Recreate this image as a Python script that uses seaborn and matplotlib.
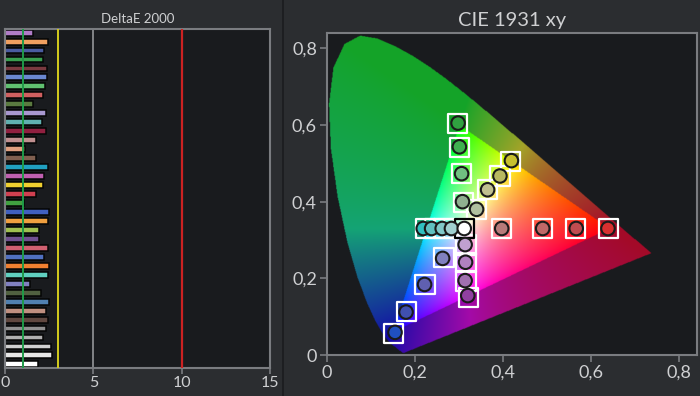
import numpy as np
import pandas as pd
import matplotlib
matplotlib.use("Agg")
import matplotlib.pyplot as plt
import seaborn as sns
from matplotlib.path import Path
from matplotlib.lines import Line2D

# ---------------- data ----------------
de_values = [1.57, 2.43, 2.22, 2.14, 2.35, 2.35, 2.24, 2.14, 1.57, 2.30,
             2.09, 2.30, 1.78, 1.16, 1.73, 2.45, 2.22, 2.14, 1.78, 1.10,
             2.50, 2.43, 1.95, 1.95, 2.43, 2.22, 2.50, 2.43, 1.44, 2.01,
             2.50, 2.30, 2.43, 2.30, 2.14, 2.58, 2.66, 1.88]
de_colors = ["#b07cc6", "#f0a060", "#4a5ca0", "#3aa050", "#7a3a40", "#6a88d0",
             "#60c070", "#d06060", "#5a7a40", "#a898d0", "#60b0b0", "#902040",
             "#c09090", "#e0a080", "#806050", "#20a0c0", "#c060b0", "#f0d030",
             "#d04050", "#40a040", "#4060c0", "#f0a040", "#a0c050", "#705090",
             "#d06070", "#5070c0", "#f08030", "#60d0c0", "#8080c0", "#506040",
             "#5080b0", "#c09080", "#604840", "#909090", "#b0b0b0", "#d0d0d0",
             "#e8e8e8", "#ffffff"]
patch_ids = [f"P{i+1:02d}" for i in range(len(de_values))]
de_ticks = [0, 5, 10, 15]

locus_x = [0.1741, 0.1738, 0.1733, 0.1726, 0.1714, 0.1703, 0.1689, 0.1669, 0.1644,
           0.1611, 0.1566, 0.1510, 0.1440, 0.1355, 0.1241, 0.1096, 0.0913, 0.0687,
           0.0454, 0.0235, 0.0082, 0.0039, 0.0139, 0.0389, 0.0743, 0.1142, 0.1547,
           0.1929, 0.2296, 0.2658, 0.3016, 0.3373, 0.3731, 0.4087, 0.4441, 0.4788,
           0.5125, 0.5448, 0.5752, 0.6029, 0.6270, 0.6482, 0.6658, 0.6801, 0.6915,
           0.7006, 0.7079, 0.7140, 0.7190, 0.7230, 0.7260, 0.7300, 0.7347]
locus_y = [0.0050, 0.0049, 0.0048, 0.0048, 0.0051, 0.0058, 0.0069, 0.0086, 0.0109,
           0.0138, 0.0177, 0.0227, 0.0297, 0.0399, 0.0578, 0.0868, 0.1327, 0.2007,
           0.2950, 0.4127, 0.5384, 0.6548, 0.7502, 0.8120, 0.8338, 0.8262, 0.8059,
           0.7816, 0.7543, 0.7243, 0.6923, 0.6589, 0.6245, 0.5896, 0.5547, 0.5202,
           0.4866, 0.4544, 0.4242, 0.3965, 0.3725, 0.3514, 0.3340, 0.3197, 0.3083,
           0.2993, 0.2920, 0.2859, 0.2809, 0.2770, 0.2740, 0.2700, 0.2653]
gamut_x = [0.64, 0.30, 0.15]
gamut_y = [0.33, 0.60, 0.06]

target_x = [0.397, 0.489, 0.565, 0.640,
            0.297, 0.302, 0.306, 0.310,
            0.151, 0.181, 0.223, 0.266,
            0.225, 0.245, 0.266, 0.288,
            0.316, 0.316, 0.316, 0.321,
            0.340, 0.365, 0.393, 0.416,
            0.313]
target_y = [0.329, 0.329, 0.329, 0.330,
            0.603, 0.541, 0.473, 0.398,
            0.057, 0.113, 0.183, 0.255,
            0.329, 0.329, 0.329, 0.329,
            0.287, 0.241, 0.193, 0.151,
            0.379, 0.431, 0.467, 0.505,
            0.329]
target_edge = ["white"] * 24 + ["black"]

meas_x = [0.397, 0.490, 0.566, 0.638,
          0.298, 0.301, 0.306, 0.308,
          0.155, 0.180, 0.222, 0.263,
          0.219, 0.238, 0.262, 0.283,
          0.314, 0.315, 0.314, 0.320,
          0.340, 0.365, 0.393, 0.419,
          0.312]
meas_y = [0.330, 0.330, 0.330, 0.330,
          0.605, 0.543, 0.473, 0.400,
          0.059, 0.112, 0.184, 0.252,
          0.330, 0.330, 0.330, 0.330,
          0.288, 0.242, 0.194, 0.155,
          0.380, 0.431, 0.467, 0.507,
          0.330]
meas_colors = ["#b87a7a", "#c06868", "#c04c50", "#d83030",
               "#30a040", "#40b050", "#70c080", "#90b090",
               "#2050c0", "#4050b0", "#6060b0", "#8080c0",
               "#30c0c0", "#60c0c0", "#80c8c8", "#a0d0d0",
               "#c0a0d0", "#b080c0", "#a070b0", "#9040a0",
               "#b0c0a0", "#c0c090", "#b8b860", "#c8c030",
               "#ffffff"]
cie_ticks = [0, 0.2, 0.4, 0.6, 0.8]
cie_labels = ["0", "0,2", "0,4", "0,6", "0,8"]

# ---------------- style ----------------
BG = "#2b2d30"
AXBG = "#191b1e"
SPINE = "#7a7c80"
TXT = "#cfd0d2"

sns.set_theme(style="dark", rc={"axes.facecolor": AXBG, "figure.facecolor": BG})
plt.rcParams["font.family"] = ["Lato", "DejaVu Sans"]

fig = plt.figure(figsize=(7, 3.96), dpi=100, facecolor=BG)
ax1 = fig.add_axes([5 / 700, (396 - 368) / 396, 265 / 700, 339 / 396])
ax2 = fig.add_axes([326.7 / 700, (396 - 355) / 396, 370.3 / 700, 322 / 396])

# ---------------- left: DeltaE bars ----------------
df = pd.DataFrame({"patch": patch_ids, "de": de_values})
pal = dict(zip(patch_ids, de_colors))
for xv in [5, 10, 15]:
    ax1.axvline(xv, color="#8a8c90", lw=1.3, zorder=0)
sns.barplot(data=df, x="de", y="patch", hue="patch", palette=pal, legend=False,
            orient="h", width=0.66, edgecolor="#050505", linewidth=1.1,
            saturation=1, ax=ax1, zorder=2)
ax1.axvline(1, color="#1f9a48", lw=1.4, zorder=3)
ax1.axvline(3, color="#d4cc1c", lw=1.4, zorder=3)
ax1.axvline(10, color="#cc2222", lw=1.6, zorder=3)
ax1.set_xlim(0, 15)
ax1.set_ylim(len(de_values) - 0.6, -0.4)
ax1.set_xticks(de_ticks)
ax1.set_xticklabels([str(t) for t in de_ticks])
ax1.set_yticks([])
ax1.set_xlabel("")
ax1.set_ylabel("")
ax1.tick_params(axis="x", colors=SPINE, labelcolor=TXT, labelsize=11.5,
                direction="out", length=4, width=1.2, bottom=True, pad=2)
ax1.set_title("DeltaE 2000", color=TXT, fontsize=9.5, pad=4)
for s in ax1.spines.values():
    s.set_color(SPINE)
    s.set_linewidth(1.5)

# ---------------- right: CIE 1931 xy ----------------
N = 600
xs = np.linspace(0, 0.84, N)
ys = np.linspace(0, 0.84, N)
XX, YY = np.meshgrid(xs, ys)
yy = np.maximum(YY, 1e-4)
Xc = XX / yy
Yc = np.ones_like(XX)
Zc = (1 - XX - YY) / yy
R = 3.2406 * Xc - 1.5372 * Yc - 0.4986 * Zc
G = -0.9689 * Xc + 1.8758 * Yc + 0.0415 * Zc
B = 0.0557 * Xc - 0.2040 * Yc + 1.0570 * Zc
rgb = np.clip(np.stack([R, G, B], -1), 0, None)
rgb = rgb / np.maximum(rgb.max(-1, keepdims=True), 1e-9)
rgb = np.where(rgb <= 0.0031308, 12.92 * rgb, 1.055 * rgb ** (1 / 2.4) - 0.055)
rgb = rgb ** 1.6  # more saturated rendering
pts = np.column_stack([XX.ravel(), YY.ravel()])
in_locus = Path(np.column_stack([locus_x, locus_y])).contains_points(pts).reshape(XX.shape)
in_tri = Path(np.column_stack([gamut_x, gamut_y])).contains_points(pts).reshape(XX.shape)
outside = ~in_tri
o = rgb[outside].copy()
o[:, 2] = o[:, 2] * (1 - 0.4 * o[:, 1])
o = o * np.array([0.56, 0.6, 0.5]) + np.array([0.08, 0.04, 0.16])
rgb[outside] = o
rgba = np.dstack([np.clip(rgb, 0, 1), in_locus.astype(float)])
ax2.imshow(rgba, extent=[0, 0.84, 0, 0.84], origin="lower", aspect="auto",
           interpolation="bilinear", zorder=1)

tdf = pd.DataFrame({"x": target_x, "y": target_y, "k": [f"T{i}" for i in range(len(target_x))]})
sns.scatterplot(data=tdf, x="x", y="y", hue="k",
                palette=dict(zip(tdf["k"], target_edge)), legend=False,
                marker="s", s=190, facecolor="none", linewidth=1.6, ax=ax2, zorder=3)
coll = ax2.collections[-1]
coll.set_edgecolors(target_edge)
coll.set_facecolors("none")

mdf = pd.DataFrame({"x": meas_x, "y": meas_y, "k": [f"M{i}" for i in range(len(meas_x))]})
sns.scatterplot(data=mdf, x="x", y="y", hue="k",
                palette=dict(zip(mdf["k"], meas_colors)), legend=False,
                marker="o", s=95, edgecolor="#1a1a1a", linewidth=1.5, ax=ax2, zorder=4)

ax2.set_xlim(0, 0.84)
ax2.set_ylim(0, 0.84)
ax2.set_xticks(cie_ticks)
ax2.set_xticklabels(cie_labels)
ax2.set_yticks(cie_ticks)
ax2.set_yticklabels(cie_labels)
ax2.set_xlabel("")
ax2.set_ylabel("")
ax2.tick_params(colors=SPINE, labelcolor=TXT, labelsize=13, direction="out",
                length=5, width=1.2, bottom=True, left=True, pad=2)
ax2.set_title("CIE 1931 xy", color=TXT, fontsize=14.5, pad=5)
for s in ax2.spines.values():
    s.set_color(SPINE)
    s.set_linewidth(1.5)

fig.add_artist(Line2D([283 / 700, 283 / 700], [0, 1], color="#1b1c1f", lw=1.2,
                      transform=fig.transFigure))

fig.savefig("out.png", dpi=100, facecolor=BG)
